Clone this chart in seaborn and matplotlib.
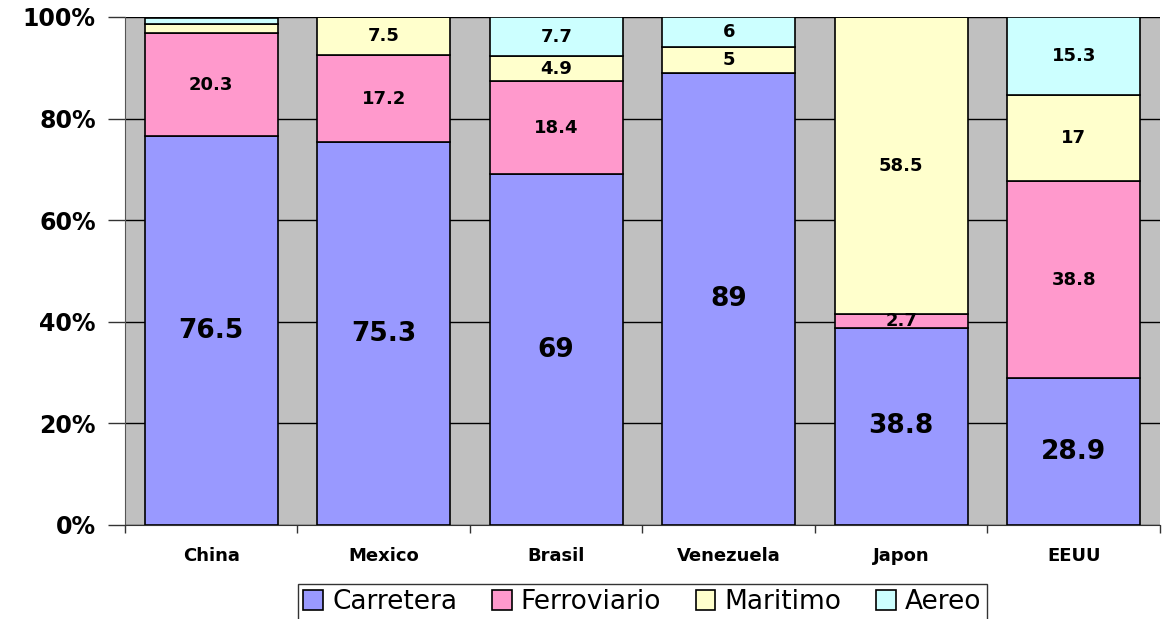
import numpy as np
import pandas as pd
import matplotlib
matplotlib.use("Agg")
import matplotlib.pyplot as plt
import seaborn as sns

# data (percent shares)
paises = ["China", "Mexico", "Brasil", "Venezuela", "Japon", "EEUU"]
carretera = [76.5, 75.3, 69, 89, 38.8, 28.9]
ferroviario = [20.3, 17.2, 18.4, 0, 2.7, 38.8]
maritimo = [1.9, 7.5, 4.9, 5, 58.5, 17]
aereo = [1.1, 0, 7.7, 6, 0, 15.3]

series = ["Carretera", "Ferroviario", "Maritimo", "Aereo"]
colores = ["#9999FF", "#FF99CC", "#FFFFCC", "#CCFFFF"]

df = pd.DataFrame({"pais": paises, "Carretera": carretera,
                   "Ferroviario": ferroviario, "Maritimo": maritimo,
                   "Aereo": aereo})

sns.set_style("white")
plt.rcParams["font.family"] = ["DejaVu Sans"]
plt.rcParams["text.color"] = "black"
plt.rcParams["xtick.color"] = "black"
plt.rcParams["ytick.color"] = "black"

fig = plt.figure(figsize=(11.64, 6.19), dpi=100)
ax = fig.add_axes([125 / 1164, 1 - 525 / 619, 1035 / 1164, 508 / 619])
ax.set_facecolor("#C0C0C0")

bottom = np.zeros(len(paises))
for s, c in zip(series, colores):
    vals = df[s].to_numpy(dtype=float)
    sns.barplot(data=df, x="pais", y=s, color=c, bottom=bottom, width=0.77,
                edgecolor="black", linewidth=1.2, ax=ax, label=s,
                saturation=1, zorder=3)
    for i, v in enumerate(vals):
        if s == "Carretera":
            ax.text(i, bottom[i] + v / 2, f"{v:g}", ha="center", va="center",
                    fontsize=19, fontweight="bold", zorder=5)
        elif v >= 2.5:
            ax.text(i, bottom[i] + v / 2, f"{v:g}", ha="center", va="center",
                    fontsize=13, fontweight="bold", zorder=5)
    bottom += vals

ax.set_xlim(-0.5, len(paises) - 0.5)
ax.set_ylim(0, 100)
ax.set_yticks([0, 20, 40, 60, 80, 100])
ax.set_yticklabels(["0%", "20%", "40%", "60%", "80%", "100%"],
                   fontsize=17, fontweight="bold")
ax.set_xticks(range(len(paises)))
ax.set_xticklabels(paises, fontsize=13, fontweight="bold")
ax.set_xticks(np.arange(-0.5, len(paises), 1), minor=True)
ax.tick_params(axis="x", which="major", length=0, pad=16)
ax.tick_params(axis="x", which="minor", length=6, width=1, color="#333333",
               direction="out", bottom=True)
ax.tick_params(axis="y", length=12, width=1, color="#333333", direction="out",
               left=True, pad=9)
ax.yaxis.grid(True, color="black", linewidth=1, zorder=1)
ax.set_axisbelow(True)
ax.set_xlabel("")
ax.set_ylabel("")
for sp in ["top", "right"]:
    ax.spines[sp].set_visible(False)
ax.spines["left"].set_color("#555555")
ax.spines["bottom"].set_color("#333333")

leg = ax.legend(loc="upper center", bbox_to_anchor=(0.5, -0.09), ncol=4,
                frameon=True, fancybox=False, edgecolor="black", fontsize=19,
                handlelength=0.75, handleheight=0.75, handletextpad=0.35,
                columnspacing=1.3, borderpad=0.2)
leg.get_frame().set_linewidth(1)

fig.savefig("out.png", dpi=100)
